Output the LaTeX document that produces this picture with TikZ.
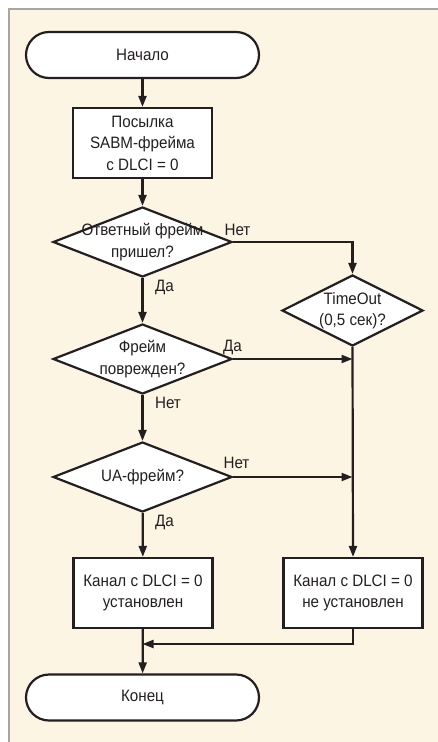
\documentclass[tikz,border=0pt]{standalone}
\usepackage{fontspec}
\setmainfont{Liberation Sans}[FakeStretch=0.92]
\usetikzlibrary{shapes.geometric,arrows.meta}
\definecolor{bg}{HTML}{FDF5E4}
\definecolor{frame}{HTML}{A6A6A6}
\definecolor{ink}{HTML}{231F20}
\tikzset{
  every node/.style={font=\fontsize{16.5}{21.5}\selectfont, text=ink},
  term/.style={draw=ink, line width=2.2pt, fill=white, rectangle, rounded corners=23pt, minimum width=233pt, minimum height=46pt, inner sep=0pt},
  proc/.style={draw=ink, line width=2.2pt, fill=white, rectangle, minimum width=139pt, minimum height=70pt, inner sep=0pt, align=center},
  decide/.style={draw=ink, line width=2.2pt, fill=white, diamond, inner sep=0pt, minimum width=179pt, minimum height=70pt},
  conn/.style={draw=ink, line width=2.2pt},
  arr/.style={conn, -{Triangle[length=11pt,width=8pt]}},
  lbl/.style={inner sep=0pt}
}
\begin{document}
\begin{tikzpicture}[x=1pt,y=-1pt]
\useasboundingbox (0,0) rectangle (438,742);
\fill[bg] (9,9) rectangle (438,742);
\draw[frame, line width=2pt] (9,742) -- (9,9) -- (438,9);

\node[term] (start) at (142.5,55) {Начало};
\node[proc] (send) at (142.5,143) {Посылка\\SABM-фрейма\\с DLCI = 0};
\node[decide, label={[align=center, lbl]center:Ответный фрейм\\пришел?}] (d1) at (142.5,242) {};
\node[decide, minimum width=141pt, minimum height=71pt, label={[align=center, lbl]center:TimeOut\\(0,5 сек)?}] (to) at (352.5,310.5) {};
\node[decide, label={[align=center, lbl]center:Фрейм\\поврежден?}] (d2) at (142.5,359) {};
\node[decide, label={[align=center, lbl]center:UA-фрейм?}] (d3) at (142.5,477) {};
\node[proc] (ok) at (143,593) {Канал с DLCI = 0\\установлен};
\node[proc] (nok) at (353,593) {Канал с DLCI = 0\\не установлен};
\node[term] (end) at (142.5,697.5) {Конец};

\coordinate (j2) at (352.5,359);
\coordinate (j3) at (352.5,477);
\coordinate (m) at (142.5,644);

\draw[arr] (start) -- (send);
\draw[arr] (send) -- (d1);
\draw[arr] (d1.east) -| (to.north);
\draw[arr] (d1) -- (d2);
\draw[arr] (d2.east) -- (j2);
\draw[arr] (d2) -- (d3);
\draw[arr] (d3.east) -- (j3);
\draw[arr] (to.south) -- (nok.north);
\draw[arr] (d3) -- (ok);
\draw[arr] (nok.south) |- (m);
\draw[arr] (ok) -- (end);

\node[lbl] (l1) at (237.5,230) {Нет};
\node[lbl] (l2) at (164.5,287) {Да};
\node[lbl] (l3) at (232.5,347) {Да};
\node[lbl] (l4) at (168,403) {Нет};
\node[lbl] (l5) at (236.5,463) {Нет};
\node[lbl] (l6) at (164.5,522) {Да};
\end{tikzpicture}
\end{document}
